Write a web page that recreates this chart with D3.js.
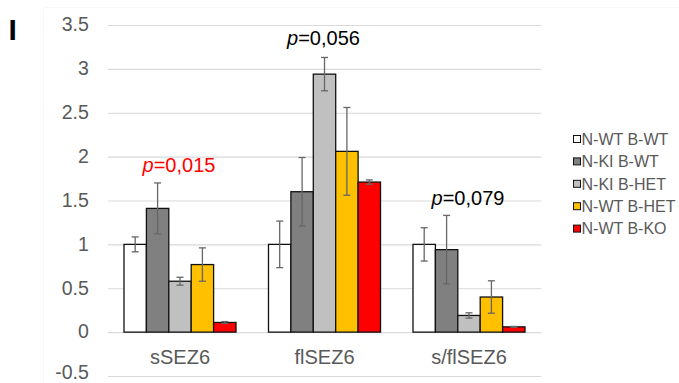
<!DOCTYPE html>
<html>
<head>
<meta charset="utf-8">
<script src="https://cdn.jsdelivr.net/npm/d3@7"></script>
<style>
  html, body { margin: 0; padding: 0; background: #fff; }
  svg { display: block; font-family: "Liberation Sans", Arial, sans-serif; }
</style>
</head>
<body>
<svg id="chart" width="679" height="383"></svg>
<script>
// ---- data ----
const categories = ["sSEZ6", "flSEZ6", "s/flSEZ6"];
const seriesNames = ["N-WT B-WT", "N-KI B-WT", "N-KI B-HET", "N-WT B-HET", "N-WT B-KO"];
const seriesColors = ["#ffffff", "#808080", "#c0c0c0", "#ffc000", "#ff0000"];
const valNWT_BWT  = [1.00, 1.00, 1.00];
const valNKI_BWT  = [1.41, 1.60, 0.94];
const valNKI_BHET = [0.58, 2.94, 0.19];
const valNWT_BHET = [0.77, 2.06, 0.40];
const valNWT_BKO  = [0.11, 1.71, 0.06];
const errNWT_BWT  = [0.085, 0.265, 0.19];
const errNKI_BWT  = [0.29, 0.39, 0.39];
const errNKI_BHET = [0.045, 0.19, 0.03];
const errNWT_BHET = [0.19, 0.50, 0.185];
const errNWT_BKO  = [0.01, 0.025, 0.005];
const yTicks = [-0.5, 0, 0.5, 1, 1.5, 2, 2.5, 3, 3.5];
const pLabels = ["0,015", "0,056", "0,079"];
const pColors = ["#ff0000", "#000000", "#000000"];

const values = [valNWT_BWT, valNKI_BWT, valNKI_BHET, valNWT_BHET, valNWT_BKO];
const errors = [errNWT_BWT, errNKI_BWT, errNKI_BHET, errNWT_BHET, errNWT_BKO];

const rows = [];
categories.forEach((c, ci) => {
  seriesNames.forEach((s, si) => {
    rows.push({cat: c, ser: s, si, v: values[si][ci], e: errors[si][ci]});
  });
});

// ---- layout ----
const svg = d3.select("#chart");
const plotL = 107.75, plotR = 541.25, plotT = 25, plotB = 376;

// faint chart-area border
svg.append("rect").attr("x", 43.5).attr("y", 7.5).attr("width", 640).attr("height", 380)
  .attr("fill", "none").attr("stroke", "#f8f8f8");

const y = d3.scaleLinear().domain([-0.5, 3.5]).range([plotB, plotT]);
const x = d3.scaleBand().domain(categories).range([plotL, plotR]).padding(0);
const xs = d3.scaleBand().domain(seriesNames).range([0, x.bandwidth()]).paddingInner(0).paddingOuter(0.725);

// gridlines + tick labels
const yAxis = d3.axisLeft(y).tickValues(yTicks).tickSize(-(plotR - plotL)).tickPadding(19)
  .tickFormat(d => String(d));
const gy = svg.append("g").attr("transform", `translate(${plotL},0)`).call(yAxis);
gy.select(".domain").remove();
gy.selectAll(".tick line").attr("stroke", "#d9d9d9").attr("stroke-width", 1.2);
gy.selectAll(".tick text").attr("fill", "#595959").attr("dy", d => d < 0 ? "0.15em" : "0.3em")
  .style("font-size", "19.5px")
  .style("font-family", "'Liberation Sans', Arial, sans-serif");

// bars
const g = svg.append("g");
g.selectAll("rect.bar").data(rows).join("rect")
  .attr("class", "bar")
  .attr("x", d => x(d.cat) + xs(d.ser))
  .attr("width", xs.bandwidth())
  .attr("y", d => y(Math.max(0, d.v)))
  .attr("height", d => Math.abs(y(d.v) - y(0)))
  .attr("fill", d => seriesColors[d.si])
  .attr("stroke", "#111")
  .attr("stroke-width", 1.3);

// error bars
const eb = svg.append("g").attr("stroke", "#666").attr("stroke-width", 1.3);
rows.forEach(d => {
  const cx = x(d.cat) + xs(d.ser) + xs.bandwidth() / 2;
  const y1 = y(d.v + d.e), y2 = y(d.v - d.e);
  eb.append("line").attr("x1", cx).attr("x2", cx).attr("y1", y1).attr("y2", y2);
  eb.append("line").attr("x1", cx - 3.5).attr("x2", cx + 3.5).attr("y1", y1).attr("y2", y1);
  eb.append("line").attr("x1", cx - 3.5).attr("x2", cx + 3.5).attr("y1", y2).attr("y2", y2);
});

// category labels
svg.selectAll("text.cat").data(categories).join("text")
  .attr("class", "cat")
  .attr("x", d => x(d) + x.bandwidth() / 2)
  .attr("y", 364)
  .attr("text-anchor", "middle")
  .attr("fill", "#595959")
  .style("font-size", "20px")
  .text(d => d);

// p-value annotations
const pY = [172, 45, 205];
categories.forEach((c, i) => {
  const t = svg.append("text")
    .attr("x", x(c) + x.bandwidth() / 2 - 1)
    .attr("y", pY[i])
    .attr("text-anchor", "middle")
    .attr("fill", pColors[i])
    .style("font-size", "20px");
  t.append("tspan").style("font-style", "italic").text("p");
  t.append("tspan").text("=" + pLabels[i]);
});

// panel letter
svg.append("text").attr("x", 8.5).attr("y", 40).style("font-size", "30px")
  .style("font-weight", "bold").attr("fill", "#000").text("I");

// legend
const lg = svg.append("g");
seriesNames.forEach((s, i) => {
  const cy = 139 + i * 22.4;
  lg.append("rect").attr("x", 573.5).attr("y", cy - 3.5).attr("width", 7).attr("height", 7)
    .attr("fill", seriesColors[i]).attr("stroke", "#111").attr("stroke-width", 1);
  lg.append("text").attr("x", 581.5).attr("y", cy).attr("dy", "0.36em")
    .attr("fill", "#595959").style("font-size", "16px").text(s);
});
</script>
</body>
</html>
